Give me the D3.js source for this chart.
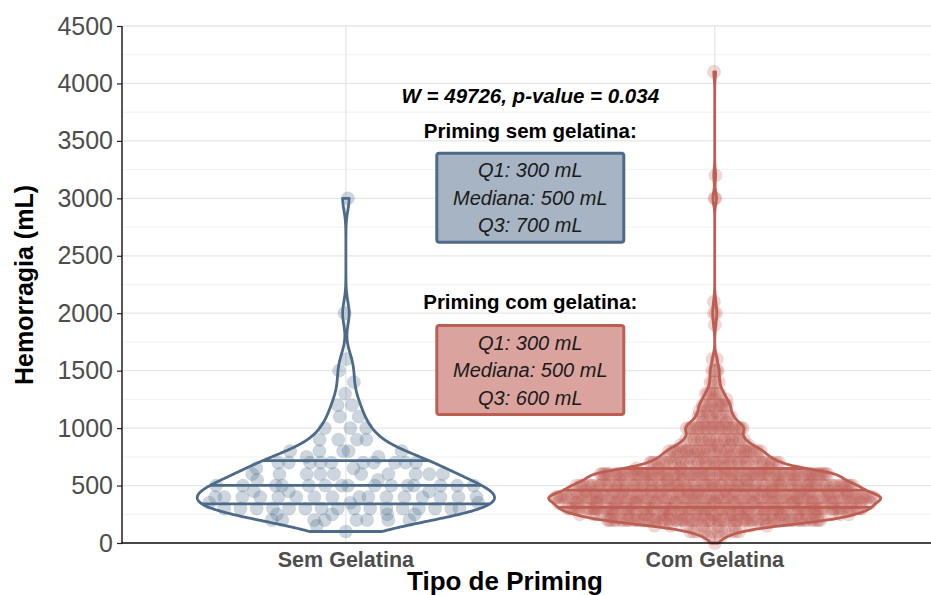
<!DOCTYPE html>
<html>
<head>
<meta charset="utf-8">
<script src="https://cdn.jsdelivr.net/npm/d3@7"></script>
<style>
  html, body { margin: 0; padding: 0; background: #ffffff; }
  svg { display: block; font-family: "Liberation Sans", Arial, Helvetica, sans-serif; }
</style>
</head>
<body>
<svg id="chart" width="931" height="595"></svg>
<script>
// ---- data ----
const categories = ["Sem Gelatina", "Com Gelatina"];

// Hemorrhage volumes (mL) and how many patients had each volume
const semLevels = [100, 150, 200, 250, 300, 350, 400, 450, 500, 550, 600, 650, 700, 750, 800, 900, 1000, 1100, 1200, 1300, 1400, 1500, 1600, 2000, 3000];
const semCounts = [1, 1, 8, 4, 16, 3, 16, 3, 15, 2, 10, 2, 10, 2, 5, 4, 3, 2, 2, 1, 1, 1, 1, 1, 1];

const comLevels = [0, 50, 100, 150, 200, 250, 300, 350, 400, 450, 500, 550, 600, 650, 700, 750, 800, 850, 900, 1000, 1050, 1100, 1150, 1200, 1250, 1300, 1400, 1500, 1600, 1900, 2000, 2100, 3000, 3200, 4100];
const comCounts = [1, 2, 12, 8, 80, 35, 100, 30, 120, 20, 105, 10, 100, 5, 45, 8, 35, 5, 22, 25, 3, 12, 3, 11, 2, 7, 4, 4, 2, 1, 2, 1, 2, 1, 1];

const yTicks = [0, 500, 1000, 1500, 2000, 2500, 3000, 3500, 4000, 4500];
const yMinorTicks = [250, 750, 1250, 1750, 2250, 2750, 3250, 3750, 4250];
const quantileProbs = [0.25, 0.5, 0.75];

const testLabel = "W = 49726, p-value = 0.034";
const summaryTitles = ["Priming sem gelatina:", "Priming com gelatina:"];
const summaryQ1 = [300, 300];
const summaryMedian = [500, 500];
const summaryQ3 = [700, 600];

// annotation anchors in data units (x between the two groups)
const annoX = 1.5;
const testLabelY = 3890;
const summaryTitleY = [3590, 2100];
const summaryBoxY = [3005, 1505];

const groupColors = ["#4D6A88", "#BC5E52"];
const boxFills = ["#A7B4C3", "#DBA39D"];

// ---- layout ----
const svg = d3.select("#chart");
const W = 931, H = 595;
const panel = { left: 124.6, right: 936, top: 26, bottom: 543 };

const x = d3.scalePoint().domain(categories).range([panel.left, panel.right]).padding(0.6);
const catUnit = x.step();               // pixels per category unit
const xc = v => panel.left + (v - 0.4) * catUnit;  // continuous category position
const y = d3.scaleLinear().domain([0, 4500]).range([panel.bottom, panel.top]);

// ---- grid ----
const grid = svg.append("g");
grid.selectAll("line.minor").data(yMinorTicks).join("line")
  .attr("x1", 122).attr("x2", W).attr("y1", d => y(d)).attr("y2", d => y(d))
  .attr("stroke", "#EFEFEF").attr("stroke-width", 0.9);
grid.selectAll("line.major").data(yTicks).join("line")
  .attr("x1", 122).attr("x2", W).attr("y1", d => y(d)).attr("y2", d => y(d))
  .attr("stroke", "#E6E6E6").attr("stroke-width", 1.3);
grid.selectAll("line.vert").data(categories).join("line")
  .attr("x1", d => x(d)).attr("x2", d => x(d)).attr("y1", panel.top).attr("y2", panel.bottom)
  .attr("stroke", "#E6E6E6").attr("stroke-width", 1.3);

// ---- density helpers ----
function expand(levels, counts) {
  const out = [];
  levels.forEach((v, i) => { for (let k = 0; k < counts[i]; k++) out.push(v); });
  return out;
}
function bwNrd0(sorted) {
  const sd = d3.deviation(sorted);
  const iqr = d3.quantileSorted(sorted, 0.75) - d3.quantileSorted(sorted, 0.25);
  let lo = Math.min(sd, iqr / 1.34);
  if (!(lo > 0)) lo = sd || Math.abs(sorted[0]) || 1;
  return 0.9 * lo * Math.pow(sorted.length, -0.2);
}
function kdeAt(sorted, bw, t) {
  let s = 0;
  for (const v of sorted) { const u = (t - v) / bw; s += Math.exp(-0.5 * u * u); }
  return s / (sorted.length * bw * Math.sqrt(2 * Math.PI));
}
function vdc(n) { // van der Corput sequence, base 2
  let r = 0, f = 0.5;
  while (n > 0) { r += f * (n % 2); n = Math.floor(n / 2); f /= 2; }
  return r;
}

const groups = categories.map((c, gi) => {
  const vals = gi === 0 ? expand(semLevels, semCounts) : expand(comLevels, comCounts);
  vals.sort((a, b) => a - b);
  const bw = bwNrd0(vals);
  const lo = vals[0], hi = vals[vals.length - 1];
  const gridY = d3.range(512).map(i => lo + (hi - lo) * i / 511);
  const dens = gridY.map(t => kdeAt(vals, bw, t));
  return { name: c, gi, vals, gridY, dens };
});
const maxDens = d3.max(groups, g => d3.max(g.dens));
groups.forEach(g => {
  g.halfW = g.dens.map(d => d / maxDens * 0.45 * catUnit);
  g.hwAt = t => {
    const gy = g.gridY;
    if (t <= gy[0]) return g.halfW[0];
    if (t >= gy[gy.length - 1]) return g.halfW[gy.length - 1];
    const i = d3.bisectRight(gy, t) - 1;
    const f = (t - gy[i]) / (gy[i + 1] - gy[i]);
    return g.halfW[i] + f * (g.halfW[i + 1] - g.halfW[i]);
  };
  // quantiles taken from the cumulative density, as geom_violin does
  const total = d3.sum(g.dens);
  let acc = 0;
  const cdf = g.dens.map(d => (acc += d) / total);
  g.quantiles = quantileProbs.map(p => {
    const i = d3.bisectLeft(cdf, p);
    if (i === 0) return g.gridY[0];
    const f = (p - cdf[i - 1]) / (cdf[i] - cdf[i - 1]);
    return g.gridY[i - 1] + f * (g.gridY[i] - g.gridY[i - 1]);
  });
});

// ---- points (quasirandom spread inside the violin) ----
const pts = svg.append("g");
groups.forEach(g => {
  const cx = x(g.name);
  const data = g.vals.map((v, i) => ({ v, off: (2 * vdc(i + 1) - 1) * g.hwAt(v) * 0.97 }));
  pts.selectAll(null).data(data).join("circle")
    .attr("cx", d => cx + d.off)
    .attr("cy", d => y(d.v))
    .attr("r", 6.6)
    .attr("fill", groupColors[g.gi])
    .attr("fill-opacity", g.gi === 0 ? 0.28 : 0.24)
    .attr("stroke", groupColors[g.gi])
    .attr("stroke-opacity", 0.14)
    .attr("stroke-width", 0.8);
});

// ---- violins ----
const vio = svg.append("g");
groups.forEach(g => {
  const cx = x(g.name);
  const left = g.gridY.map((t, i) => [cx - g.halfW[i], y(t)]);
  const right = g.gridY.map((t, i) => [cx + g.halfW[i], y(t)]).reverse();
  vio.append("path")
    .attr("d", d3.line()(left.concat(right)) + "Z")
    .attr("fill", "none")
    .attr("stroke", groupColors[g.gi])
    .attr("stroke-width", 2.8)
    .attr("stroke-linejoin", "round");
  vio.selectAll(null).data(g.quantiles).join("line")
    .attr("x1", q => cx - g.hwAt(q)).attr("x2", q => cx + g.hwAt(q))
    .attr("y1", q => y(q)).attr("y2", q => y(q))
    .attr("stroke", groupColors[g.gi]).attr("stroke-width", 2.8);
});

// ---- axes ----
const yAxis = svg.append("g").attr("transform", `translate(122,0)`)
  .call(d3.axisLeft(y).tickValues(yTicks).tickFormat(d3.format("d"))
    .tickSize(5).tickSizeOuter(0).tickPadding(4));
yAxis.select(".domain").remove();
yAxis.selectAll(".tick line").attr("stroke", "#222").attr("stroke-width", 1.2);
yAxis.selectAll(".tick text").attr("fill", "#4D4D4D").style("font-size", "25px")
  .style("font-family", "'Liberation Sans', Arial, sans-serif");

svg.append("line").attr("x1", 122).attr("x2", 122).attr("y1", panel.top).attr("y2", panel.bottom + 0.6)
  .attr("stroke", "#111").attr("stroke-width", 1.4);
svg.append("line").attr("x1", 121.3).attr("x2", W).attr("y1", panel.bottom).attr("y2", panel.bottom)
  .attr("stroke", "#111").attr("stroke-width", 1.4);

svg.append("g").selectAll("text").data(categories).join("text")
  .attr("x", d => x(d)).attr("y", 567)
  .attr("text-anchor", "middle")
  .attr("fill", "#4D4D4D").attr("font-weight", "bold").style("font-size", "21.5px")
  .text(d => d);

svg.append("text").attr("x", 505).attr("y", 590)
  .attr("text-anchor", "middle").attr("font-weight", "bold").style("font-size", "26px")
  .attr("fill", "#000").text("Tipo de Priming");

svg.append("text").attr("transform", `translate(33,285) rotate(-90)`)
  .attr("text-anchor", "middle").attr("font-weight", "bold").style("font-size", "25px")
  .attr("fill", "#000").text("Hemorragia (mL)");

// ---- annotations ----
const ax = xc(annoX);
svg.append("text").attr("x", ax).attr("y", y(testLabelY)).attr("dy", "0.35em")
  .attr("text-anchor", "middle").attr("font-weight", "bold").attr("font-style", "italic")
  .style("font-size", "20.5px").attr("fill", "#000").text(testLabel);

summaryTitles.forEach((t, i) => {
  svg.append("text").attr("x", ax).attr("y", y(summaryTitleY[i])).attr("dy", "0.35em")
    .attr("text-anchor", "middle").attr("font-weight", "bold")
    .style("font-size", "20.5px").attr("fill", "#000").text(t);
  const cy = y(summaryBoxY[i]);
  const bw = 187, bh = 89;
  svg.append("rect").attr("x", ax - bw / 2).attr("y", cy - bh / 2).attr("width", bw).attr("height", bh)
    .attr("rx", 2.5).attr("fill", boxFills[i]).attr("stroke", groupColors[i]).attr("stroke-width", 3);
  const lines = [`Q1: ${summaryQ1[i]} mL`, `Mediana: ${summaryMedian[i]} mL`, `Q3: ${summaryQ3[i]} mL`];
  svg.selectAll(null).data(lines).join("text")
    .attr("x", ax).attr("y", (d, k) => cy + (k - 1) * 27.5).attr("dy", "0.35em")
    .attr("text-anchor", "middle").attr("font-style", "italic")
    .style("font-size", "20px").attr("fill", "#1a1a1a").text(d => d);
});
</script>
</body>
</html>
